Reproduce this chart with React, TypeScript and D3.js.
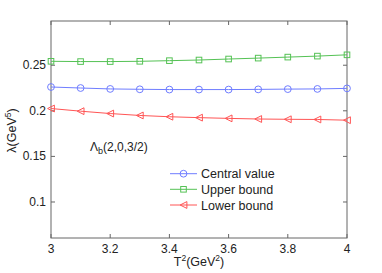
import React from 'react';
import * as d3 from 'd3';

// T^2 values (GeV^2)
const t2 = [3.0, 3.1, 3.2, 3.3, 3.4, 3.5, 3.6, 3.7, 3.8, 3.9, 4.0];

// lambda values
const central = [0.2261, 0.2250, 0.2240, 0.2236, 0.2233, 0.2233, 0.2233, 0.2235, 0.2238, 0.2240, 0.2246];
const upper = [0.2543, 0.2540, 0.2540, 0.2543, 0.2550, 0.2557, 0.2568, 0.2578, 0.2589, 0.2600, 0.2614];
const lower = [0.2025, 0.1996, 0.1970, 0.1949, 0.1935, 0.1925, 0.1917, 0.1910, 0.1907, 0.1905, 0.1897];

const xTicks = [3, 3.2, 3.4, 3.6, 3.8, 4];
const yTicks = [0.1, 0.15, 0.2, 0.25];

const W = 382;
const H = 273;
const M = { left: 51, right: 35, top: 21, bottom: 35 };

const FONT = '"Liberation Sans", Arial, Helvetica, sans-serif';
const AXIS_COLOR = '#666';

const series = [
  { name: 'Central value', values: central, color: '#6f7dff', marker: 'circle' },
  { name: 'Upper bound', values: upper, color: '#55c255', marker: 'square' },
  { name: 'Lower bound', values: lower, color: '#ff5555', marker: 'triangle' },
];

function Marker({ kind, x, y, color }: { kind: string; x: number; y: number; color: string }) {
  if (kind === 'circle') {
    return <circle cx={x} cy={y} r={3.4} fill="none" stroke={color} strokeWidth={1} />;
  }
  if (kind === 'square') {
    return <rect x={x - 2.8} y={y - 2.8} width={5.6} height={5.6} fill="none" stroke={color} strokeWidth={1} />;
  }
  // left-pointing triangle
  const s = 3.4;
  return (
    <path
      d={`M${x - s},${y} L${x + s},${y - s} L${x + s},${y + s} Z`}
      fill="none"
      stroke={color}
      strokeWidth={1}
    />
  );
}

export default function App() {
  const x = d3.scaleLinear().domain([3, 4]).range([M.left, W - M.right]);
  const y = d3.scaleLinear().domain([0.0605, 0.2985]).range([H - M.bottom, M.top]);

  const line = d3
    .line<number>()
    .x((_, i) => x(t2[i]))
    .y((d) => y(d));

  const x0 = x.range()[0];
  const x1 = x.range()[1];
  const y0 = y.range()[0];
  const y1 = y.range()[1];
  const tickLen = 4;

  const legendX = 170;
  const legendY = [173.7, 189.3, 205];

  return (
    <svg
      width={W}
      height={H}
      style={{ position: 'absolute', left: 0, top: 0, background: '#fff' }}
      fontFamily={FONT}
    >
      {/* frame */}
      <rect x={x0} y={y1} width={x1 - x0} height={y0 - y1} fill="none" stroke={AXIS_COLOR} strokeWidth={1} />

      {/* x ticks */}
      {xTicks.map((t) => (
        <g key={'xt' + t}>
          <line x1={x(t)} x2={x(t)} y1={y0} y2={y0 - tickLen} stroke={AXIS_COLOR} />
          <line x1={x(t)} x2={x(t)} y1={y1} y2={y1 + tickLen} stroke={AXIS_COLOR} />
          <text x={x(t)} y={y0 + 15} textAnchor="middle" fontSize={12} fill="#222">
            {d3.format('~g')(t)}
          </text>
        </g>
      ))}

      {/* y ticks */}
      {yTicks.map((t) => (
        <g key={'yt' + t}>
          <line x1={x0} x2={x0 + tickLen} y1={y(t)} y2={y(t)} stroke={AXIS_COLOR} />
          <line x1={x1} x2={x1 - tickLen} y1={y(t)} y2={y(t)} stroke={AXIS_COLOR} />
          <text x={x0 - 5} y={y(t) + 4} textAnchor="end" fontSize={12} fill="#222">
            {d3.format('~g')(t)}
          </text>
        </g>
      ))}

      {/* series */}
      {series.map((s) => (
        <g key={s.name}>
          <path d={line(s.values) || ''} fill="none" stroke={s.color} strokeWidth={1} />
          {s.values.map((v, i) => (
            <Marker key={i} kind={s.marker} x={x(t2[i])} y={y(v)} color={s.color} />
          ))}
        </g>
      ))}

      {/* annotation */}
      <text x={90} y={151} fontSize={12} fill="#222">
        Λ<tspan fontSize={9} dy={3}>b</tspan>
        <tspan dy={-3}>(2,0,3/2)</tspan>
      </text>

      {/* legend */}
      {series.map((s, i) => (
        <g key={'lg' + s.name}>
          <line x1={legendX} x2={legendX + 27} y1={legendY[i]} y2={legendY[i]} stroke={s.color} />
          <Marker kind={s.marker} x={legendX + 13.5} y={legendY[i]} color={s.color} />
          <text x={legendX + 31} y={legendY[i] + 4.5} fontSize={12.5} fill="#222">
            {s.name}
          </text>
        </g>
      ))}

      {/* axis labels */}
      <text x={(x0 + x1) / 2} y={266} textAnchor="middle" fontSize={12.5} fill="#222">
        T<tspan fontSize={8.5} dy={-5}>2</tspan>
        <tspan dy={5}>(GeV</tspan>
        <tspan fontSize={8.5} dy={-5}>2</tspan>
        <tspan dy={5}>)</tspan>
      </text>
      <text
        transform={`translate(16, ${(y0 + y1) / 2 + 1}) rotate(-90)`}
        textAnchor="middle"
        fontSize={12.5}
        fill="#222"
      >
        λ(GeV<tspan fontSize={8.5} dy={-5}>5</tspan>
        <tspan dy={5}>)</tspan>
      </text>
    </svg>
  );
}
